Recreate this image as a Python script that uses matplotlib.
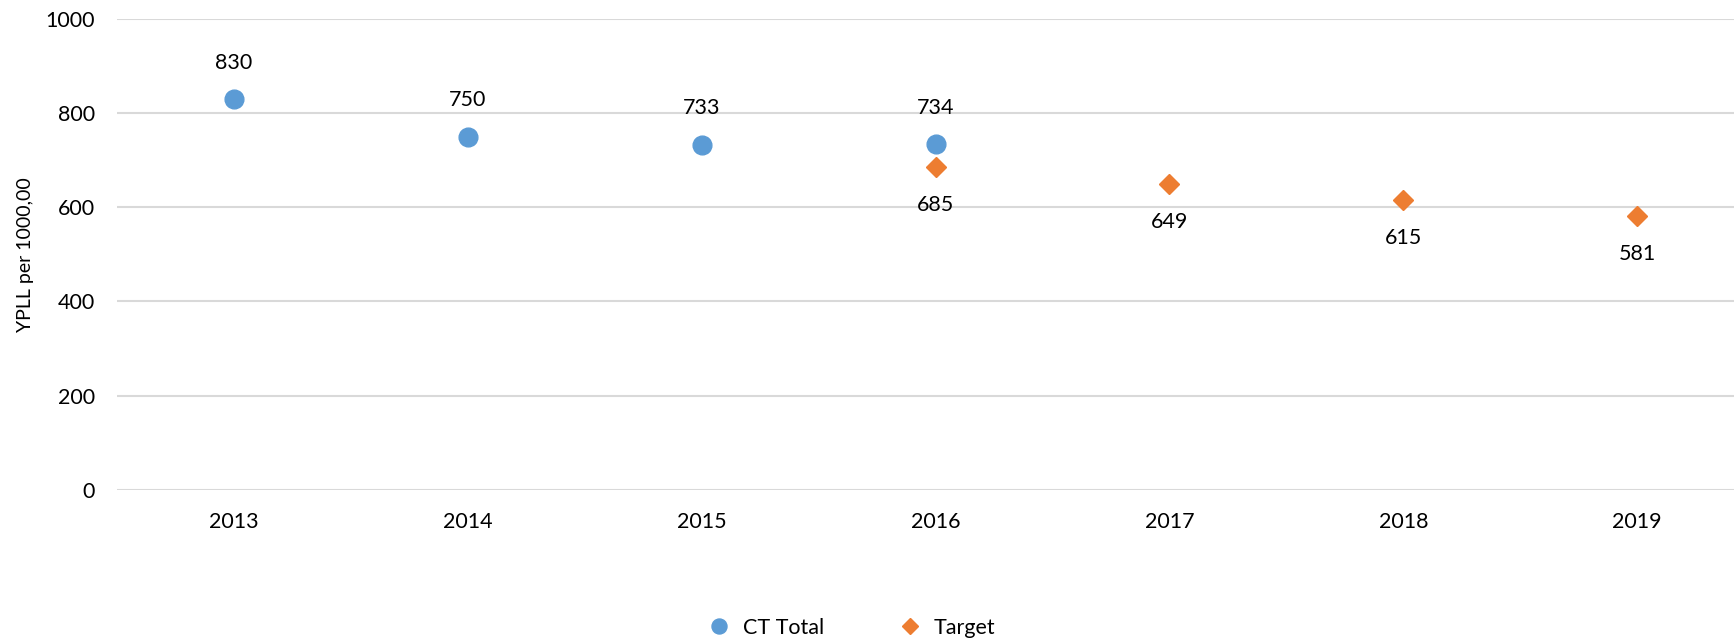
import matplotlib
matplotlib.use('Agg')
import matplotlib.pyplot as plt

years = ['2013', '2014', '2015', '2016', '2017', '2018', '2019']
ct_total = [830, 750, 733, 734]
target = [685, 649, 615, 581]
ct_years = years[:4]
target_years = years[3:]

plt.rcParams['font.family'] = ['Lato', 'DejaVu Sans']
plt.rcParams['font.size'] = 15

fig = plt.figure(figsize=(17.34, 6.41), dpi=100, facecolor='w')
ax = fig.add_axes([0.0675, 0.2356, 0.9325, 0.7352])

xc = [years.index(y) for y in ct_years]
xt = [years.index(y) for y in target_years]

ax.plot(xc, ct_total, linestyle='none', marker='o', markersize=13.5,
        color='#5B9BD5', label='CT Total')
ax.plot(xt, target, linestyle='none', marker='D', markersize=10.3,
        color='#ED7D31', label='Target')

for x, v in zip(xc, ct_total):
    ax.annotate(str(v), (x, v), xytext=(0, 26), textcoords='offset points',
                ha='center', va='center', fontsize=15.5)
for x, v in zip(xt, target):
    ax.annotate(str(v), (x, v), xytext=(0, -27), textcoords='offset points',
                ha='center', va='center', fontsize=15.5)

ax.set_xlim(-0.5, 6.414)
ax.set_ylim(0, 1000)
ax.set_yticks(range(0, 1001, 200))
ax.set_xticks(range(len(years)))
ax.set_xticklabels(years)
ax.set_ylabel('YPLL per 1000,00', fontsize=14, labelpad=8)
ax.grid(axis='y', color='#d9d9d9', linewidth=1.5)
ax.set_axisbelow(True)
for s in ax.spines.values():
    s.set_visible(False)
ax.tick_params(axis='both', length=0, labelsize=15.5)
ax.tick_params(axis='y', pad=16)
ax.tick_params(axis='x', pad=16)

fig.legend(loc='lower center', bbox_to_anchor=(0.488, -0.025), ncol=2, frameon=False,
           fontsize=15.5, handletextpad=0.1, columnspacing=3.0, markerscale=0.8)

plt.savefig('out.png', dpi=100)
